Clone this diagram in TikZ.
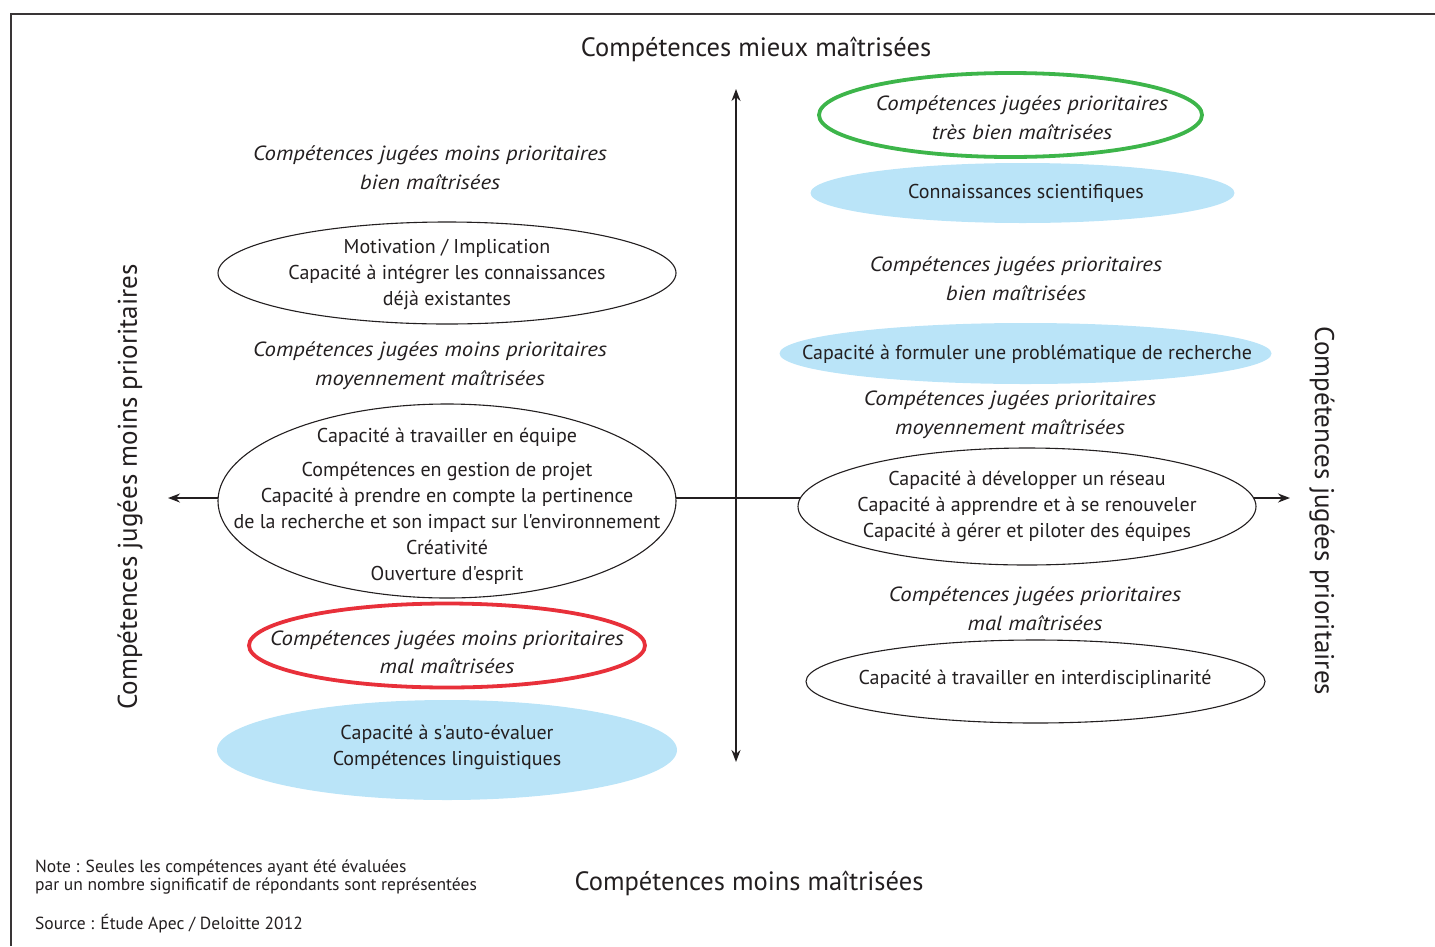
\documentclass[tikz,border=0pt]{standalone}
\usepackage{fontspec}
\setmainfont{PT Sans}[Ligatures=TeXOff, ItalicFeatures={FakeStretch=1.11}]
\usetikzlibrary{shapes.geometric,arrows.meta}
\definecolor{skyb}{RGB}{186,228,248}
\definecolor{ringred}{RGB}{232,48,58}
\definecolor{ringgreen}{RGB}{61,181,74}
\definecolor{ink}{RGB}{35,31,32}
\begin{document}
\begin{tikzpicture}[x=1pt,y=-1pt,
  txt/.style={inner sep=0, align=center, text=ink, font=\fontsize{20}{26}\selectfont},
  head/.style={inner sep=0, align=center, text=ink, font=\fontsize{20.5}{29}\selectfont\itshape},
  axlabel/.style={inner sep=0, text=ink, font=\fontsize{26.5}{30}\selectfont},
  vlabel/.style={inner sep=0, text=ink, font=\fontsize{27}{30}\selectfont},
  note/.style={inner sep=0, align=left, anchor=west, text=ink, font=\fontsize{17.5}{16}\selectfont},
  ell/.style={ellipse, draw=ink, line width=1.1, fill=white, inner sep=0},
  bell/.style={ellipse, fill=skyb, inner sep=0},
  ring/.style={ellipse, line width=3.8, fill=white, inner sep=0},
  axis/.style={line width=1.8, draw=ink, {Stealth[length=12,width=9]}-{Stealth[length=12,width=9]}}
]
\useasboundingbox (0,0) rectangle (1435,946);
% frame
\draw[line width=2, draw=ink!90] (10.5,946) -- (10.5,13.5) -- (1435,13.5);

% axes
\coordinate (xl) at (168,498);
\coordinate (xr) at (1290,498);
\coordinate (yt) at (736,89);
\coordinate (yb) at (736,762);
\draw[axis] (xl) -- (xr);
\draw[axis] (yb) -- (yt);

% axis labels
\node[axlabel] (top) at (756,49) {Compétences mieux maîtrisées};
\node[axlabel] (bottom) at (749,883) {Compétences moins maîtrisées};
\node[vlabel, rotate=90] (left) at (130,487) {Compétences jugées moins prioritaires};
\node[vlabel, rotate=-90] (right) at (1322,511) {Compétences jugées prioritaires};

% ---- left column
\node[head] (hl1) at (430,168) {Compétences jugées moins prioritaires\\bien maîtrisées};
\node[ell, minimum width=458, minimum height=102] (el1) at (447,273) {};
\node[txt] (tl1) at (447,274) {Motivation / Implication\\Capacité à intégrer les connaissances\\déjà existantes};

\node[head] (hl2) at (430,366) {Compétences jugées moins prioritaires\\moyennement maîtrisées};
\node[ell, minimum width=458, minimum height=194] (el2) at (447,501) {};
\node[txt] (tl2) at (447,506) {Capacité à travailler en équipe\\[8pt]Compétences en gestion de projet\\Capacité à prendre en compte la pertinence\\de la recherche et son impact sur l'environnement\\Créativité\\Ouverture d'esprit};

\node[ring, draw=ringred, minimum width=396, minimum height=84] (red) at (447,645.5) {};
\node[head, font=\fontsize{20.5}{28}\selectfont\itshape] (tred) at (447,652) {Compétences jugées moins prioritaires\\mal maîtrisées};

\node[bell, minimum width=460, minimum height=100] (bl) at (447,750) {};
\node[txt] (tbl) at (447,747) {Capacité à s'auto-évaluer\\Compétences linguistiques};

% ---- right column
\node[ring, draw=ringgreen, minimum width=383, minimum height=84] (green) at (1010.5,115) {};
\node[head] (tgreen) at (1022,117.5) {Compétences jugées prioritaires\\très bien maîtrisées};

\node[bell, minimum width=424, minimum height=60] (br1) at (1022.5,193) {};
\node[txt] (tbr1) at (1026,193) {Connaissances scientifiques};

\node[head] (hr1) at (1016,278.5) {Compétences jugées prioritaires\\bien maîtrisées};

\node[bell, minimum width=492, minimum height=61] (br2) at (1025.5,353.5) {};
\node[txt] (tbr2) at (1027,354) {Capacité à formuler une problématique de recherche};

\node[head] (hr2) at (1010,414.5) {Compétences jugées prioritaires\\moyennement maîtrisées};
\node[ell, minimum width=458, minimum height=117] (er1) at (1027,506.5) {};
\node[txt] (ter1) at (1027,506) {Capacité à développer un réseau\\Capacité à apprendre et à se renouveler\\Capacité à gérer et piloter des équipes};

\node[head] (hr3) at (1035,608.5) {Compétences jugées prioritaires\\mal maîtrisées};
\node[ell, minimum width=459, minimum height=83] (er2) at (1035.5,681.5) {};
\node[txt] (ter2) at (1035,679) {Capacité à travailler en interdisciplinarité};

% notes
\node[note] (note) at (35,877) {Note : Seules les compétences ayant été évaluées\\par un nombre significatif de répondants sont représentées};
\node[note] (src) at (35,924) {Source : Étude Apec / Deloitte 2012};
\end{tikzpicture}
\end{document}
